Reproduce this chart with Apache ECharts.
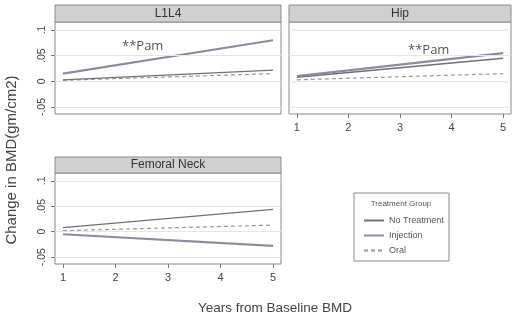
<!DOCTYPE html>
<html>
<head>
<meta charset="utf-8">
<script src="https://cdn.jsdelivr.net/npm/echarts@6/dist/echarts.min.js"></script>
<style>
  html, body { margin: 0; padding: 0; background: #fff; }
  #chart { width: 512px; height: 320px; }
</style>
</head>
<body>
<div id="chart"></div>
<script>
// data (linear fits, year 1 -> year 5)
const years = [1, 5]
const panels = ['L1L4', 'Hip', 'Femoral Neck']
const noTreatment = [[0.003, 0.022], [0.008, 0.045], [0.008, 0.044]]
const injection = [[0.015, 0.080], [0.010, 0.055], [-0.005, -0.028]]
const oral = [[0.002, 0.015], [0.003, 0.015], [0.002, 0.013]]
const yTickVals = [-0.05, 0, 0.05, 0.1]
const yTickLabels = ['-.05', '0', '.05', '.1']
const xTickVals = [1, 2, 3, 4, 5]

const FONT = 'Liberation Sans, Arial, sans-serif'

// panel boxes (plot area)
const boxes = [
  { left: 55, top: 22, width: 226, height: 92 },
  { left: 289, top: 22, width: 222, height: 92 },
  { left: 55, top: 173, width: 226, height: 91 }
]

const chart = echarts.init(document.getElementById('chart'))

const option = {
  animation: false,
  textStyle: { fontFamily: FONT },
  grid: [],
  xAxis: [],
  yAxis: [],
  series: [],
  legend: {
    left: 358,
    top: 211,
    orient: 'vertical',
    itemWidth: 20,
    itemHeight: 10,
    itemGap: 6,
    itemStyle: { opacity: 0 },
    textStyle: { fontSize: 9, color: '#555', fontFamily: FONT },
    data: ['No Treatment', 'Injection', 'Oral']
  },
  graphic: []
}

const toPts = (pair) => years.map((y, i) => [y, pair[i]])

boxes.forEach((b, i) => {
  option.grid.push({
    left: b.left, top: b.top, width: b.width, height: b.height,
    show: true, borderColor: '#8a8a8a', borderWidth: 1, backgroundColor: '#fff'
  })
  const showX = i !== 0
  option.xAxis.push({
    gridIndex: i,
    type: 'value',
    min: 1 - 8 / 52.5,
    max: 5 + 8 / 52.5,
    axisLine: { show: false, onZero: false },
    splitLine: { show: false },
    axisTick: { show: showX, length: 4, lineStyle: { color: '#777' }, customValues: xTickVals },
    axisLabel: { show: showX, fontSize: 11, color: '#444', margin: 8, customValues: xTickVals }
  })
  const showY = i !== 1
  option.yAxis.push({
    gridIndex: i,
    type: 'value',
    min: -0.05 - (7 / 25.7) * 0.05,
    max: 0.1 + (8 / 25.7) * 0.05,
    axisLine: { show: false, onZero: false },
    splitLine: { show: false },
    axisTick: { show: showY, length: 4, lineStyle: { color: '#777' }, customValues: yTickVals },
    axisLabel: {
      show: showY, fontSize: 10.5, color: '#444', rotate: 90, margin: 7,
      customValues: yTickVals,
      formatter: (v) => yTickLabels[yTickVals.findIndex((t) => Math.abs(t - v) < 1e-9)]
    }
  })
  // gridlines
  option.series.push({
    type: 'line', xAxisIndex: i, yAxisIndex: i, data: [], z: 1, silent: true,
    markLine: {
      silent: true, symbol: 'none', label: { show: false },
      lineStyle: { color: '#e6e6e6', width: 1, type: 'solid' },
      data: yTickVals.map((v) => ({ yAxis: v }))
    }
  })
  option.series.push({
    name: 'Oral', type: 'line', xAxisIndex: i, yAxisIndex: i, z: 3,
    symbol: 'none', data: toPts(oral[i]),
    lineStyle: { color: '#999999', width: 1.2, type: [4, 3] }, itemStyle: { color: '#999999' }
  })
  option.series.push({
    name: 'No Treatment', type: 'line', xAxisIndex: i, yAxisIndex: i, z: 3,
    symbol: 'none', data: toPts(noTreatment[i]),
    lineStyle: { color: '#707070', width: 1.3 }, itemStyle: { color: '#707070' }
  })
  option.series.push({
    name: 'Injection', type: 'line', xAxisIndex: i, yAxisIndex: i, z: 3,
    symbol: 'none', data: toPts(injection[i]),
    lineStyle: { color: '#8f8b9e', width: 2.2 }, itemStyle: { color: '#8f8b9e' }
  })

  // header strip
  const hTop = i === 2 ? 157 : 5
  option.graphic.push({
    type: 'rect',
    shape: { x: b.left, y: hTop, width: b.width, height: b.top - hTop },
    style: { fill: '#d0d0d0', stroke: '#8a8a8a', lineWidth: 1 }
  })
  option.graphic.push({
    type: 'text',
    x: b.left + b.width / 2, y: hTop + (b.top - hTop) / 2,
    style: { text: panels[i], fontSize: 12, fill: '#333', align: 'center', verticalAlign: 'middle', fontFamily: FONT }
  })
})

// annotations
option.graphic.push({
  type: 'text', x: 122, y: 46,
  style: { text: '**Pam', fontSize: 13, fill: '#555', verticalAlign: 'middle', fontFamily: 'Open Sans, sans-serif' }
})
option.graphic.push({
  type: 'text', x: 408, y: 50,
  style: { text: '**Pam', fontSize: 13, fill: '#555', verticalAlign: 'middle', fontFamily: 'Open Sans, sans-serif' }
})

// legend box and title
option.graphic.push({
  type: 'rect', z: -1,
  shape: { x: 354, y: 193, width: 95, height: 68 },
  style: { fill: '#fff', stroke: '#8a8a8a', lineWidth: 1 }
})
option.graphic.push({
  type: 'text', x: 401, y: 204,
  style: { text: 'Treatment Group', fontSize: 8, fill: '#555', align: 'center', verticalAlign: 'middle', fontFamily: FONT }
})

// axis titles
option.graphic.push({
  type: 'text', x: 12, y: 160, rotation: Math.PI / 2,
  style: { text: 'Change in BMD(gm/cm2)', fontSize: 15, fill: '#444', align: 'center', verticalAlign: 'middle', fontFamily: FONT }
})
option.graphic.push({
  type: 'text', x: 275, y: 308,
  style: { text: 'Years from Baseline BMD', fontSize: 13.5, fill: '#444', align: 'center', verticalAlign: 'middle', fontFamily: FONT }
})

chart.setOption(option)
</script>
</body>
</html>
